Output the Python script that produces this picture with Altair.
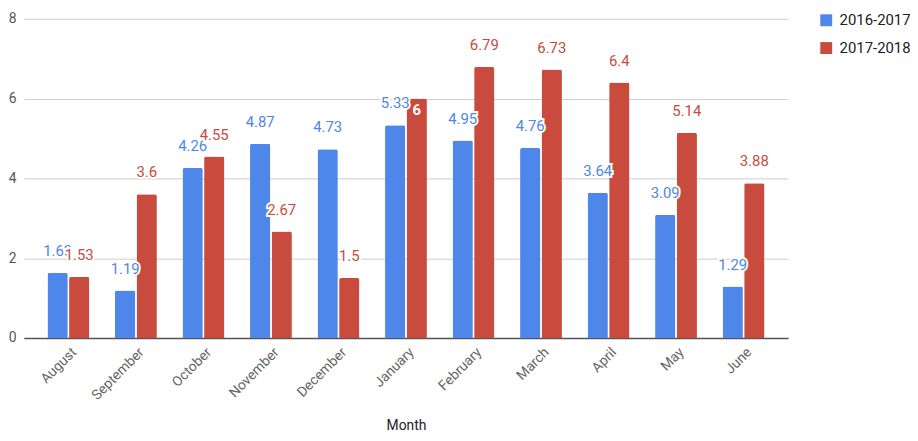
import altair as alt
import pandas as pd

months = ["August", "September", "October", "November", "December", "January",
          "February", "March", "April", "May", "June"]
seasons = ["2016-2017", "2017-2018"]
values_2016_2017 = [1.63, 1.19, 4.26, 4.87, 4.73, 5.33, 4.95, 4.76, 3.64, 3.09, 1.29]
values_2017_2018 = [1.53, 3.6, 4.55, 2.67, 1.5, 6, 6.79, 6.73, 6.4, 5.14, 3.88]
colors = ["#4e86ea", "#c84b3d"]
y_ticks = [0, 2, 4, 6, 8]
# labels drawn inside their bar (white) in the reference
inside_labels = [("January", "2017-2018")]

rows = []
for s, vals in zip(seasons, [values_2016_2017, values_2017_2018]):
    for m, v in zip(months, vals):
        rows.append({"Month": m, "Season": s, "Value": v, "Label": f"{v:g}",
                     "Inside": (m, s) in inside_labels})
df = pd.DataFrame(rows)

FONT = "Roboto"

x = alt.X("Month:N", sort=months,
          scale=alt.Scale(domain=months, paddingInner=0.38, paddingOuter=0.35),
          axis=alt.Axis(title="Month", labelAngle=-45, labelAlign="right",
                        labelBaseline="middle", labelPadding=12, labelOffset=6,
                        labelColor="#666", labelFontSize=14, labelFont=FONT,
                        ticks=False, domainColor="#555", domainWidth=1.5,
                        titleFont=FONT, titleFontSize=14, titleFontWeight="normal",
                        titleColor="#222", titleY=88, titleBaseline="middle"))
y = alt.Y("Value:Q", scale=alt.Scale(domain=[0, 8], nice=False),
          axis=alt.Axis(title=None, values=y_ticks, format="d", domain=False,
                        ticks=False, gridColor="#cccccc", labelColor="#555",
                        labelFontSize=14, labelPadding=8, labelFont=FONT))
xo = alt.XOffset("Season:N", sort=seasons,
                 scale=alt.Scale(domain=seasons, paddingInner=0.06))
color = alt.Color("Season:N", scale=alt.Scale(domain=seasons, range=colors),
                  legend=alt.Legend(title=None, orient="none", legendX=802, legendY=-6,
                                    symbolType="square", symbolSize=144,
                                    symbolStrokeWidth=0, labelFontSize=15,
                                    labelColor="#222", labelFont=FONT,
                                    rowPadding=12, labelOffset=6))

base = alt.Chart(df)
bars = base.mark_bar(cornerRadiusTopLeft=2, cornerRadiusTopRight=2).encode(
    x=x, xOffset=xo, y=y, color=color)

layers = [bars]
for s, c in zip(seasons, colors):
    sel = base.transform_filter(
        f"datum.Season == '{s}' && !datum.Inside")
    halo = sel.mark_text(dy=-22, baseline="middle", fontSize=15, font=FONT,
                         color="white", stroke="white", strokeWidth=4).encode(
        x=x, xOffset=xo, y=y, text="Label:N")
    txt = sel.mark_text(dy=-22, baseline="middle", fontSize=15, font=FONT,
                        color=c).encode(x=x, xOffset=xo, y=y, text="Label:N")
    layers += [halo, txt]

inside = base.transform_filter("datum.Inside").mark_text(
    dy=12, baseline="middle", fontSize=15, font=FONT, fontWeight="bold",
    color="white").encode(x=x, xOffset=xo, y=y, text="Label:N")
layers.append(inside)

chart = alt.layer(*layers).properties(
    width=771, height=322,
    autosize=alt.AutoSizeParams(type="none"),
    padding={"left": 16, "top": 9, "right": 123, "bottom": 94},
).configure_view(stroke=None)

chart.save("out.html", embed_options={"renderer": "svg", "actions": False})
